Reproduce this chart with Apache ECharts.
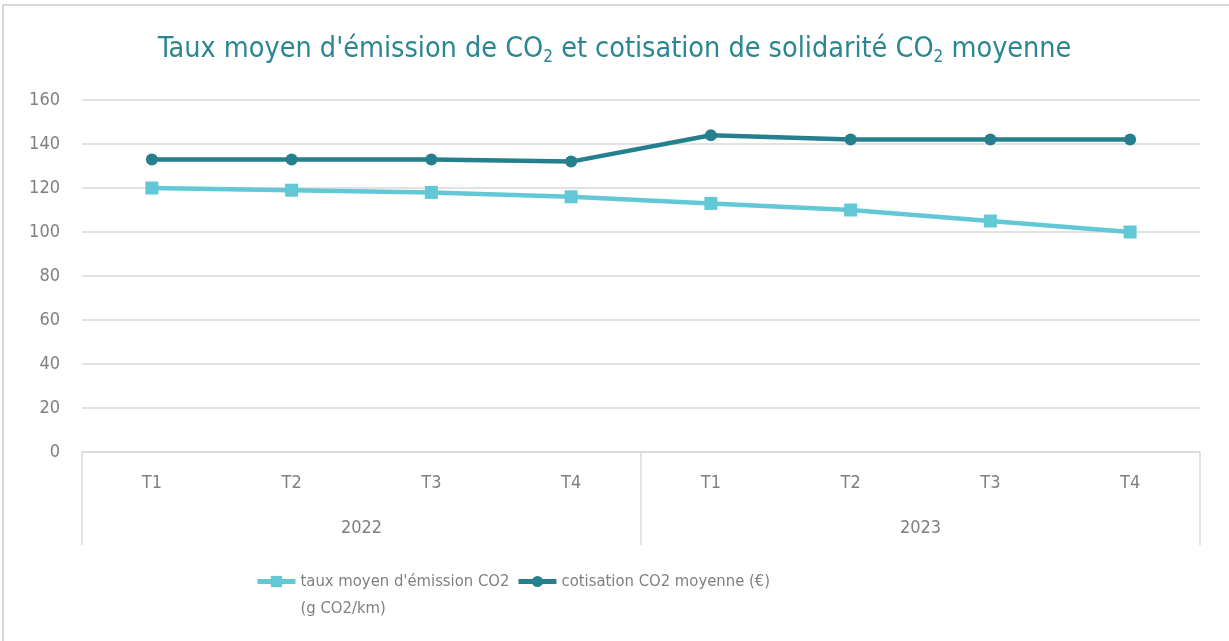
<!DOCTYPE html>
<html>
<head>
<meta charset="utf-8">
<script src="https://cdn.jsdelivr.net/npm/echarts@6/dist/echarts.min.js"></script>
<style>
html, body { margin: 0; padding: 0; background: #fff; }
#frame { position: absolute; left: 2px; top: 4px; width: 1240px; height: 650px; border-top: 2px solid #d9d9d9; border-left: 2px solid #d9d9d9; }
#chart { position: absolute; left: 0; top: 0; width: 1229px; height: 641px; }
</style>
</head>
<body>
<div id="frame"></div>
<div id="chart"></div>
<script>
// categories
const quarters = ['T1', 'T2', 'T3', 'T4', 'T1', 'T2', 'T3', 'T4'];
const years = ['2022', '2023'];
// series values
const tauxEmission = [120, 119, 118, 116, 113, 110, 105, 100];
const cotisation = [133, 133, 133, 132, 144, 142, 142, 142];
const seriesNames = ["taux moyen d'émission CO2\n(g CO2/km)", 'cotisation CO2 moyenne (€)'];

const font = '"Liberation Sans Narrow", "DejaVu Sans Condensed", sans-serif';
const grey = '#7f7f7f';
const light = '#62c8d6';
const dark = '#267f8c';
const titleColor = '#2a8791';

const legendText = { fontFamily: font, fontSize: 16.5, color: grey, lineHeight: 27 };

const chart = echarts.init(document.getElementById('chart'));
chart.setOption({
    animation: false,
    title: {
        text: '{t|Taux moyen d\'émission de CO}{s|2}{t| et cotisation de solidarité CO}{s|2}{t| moyenne}',
        left: 'center',
        top: 28,
        textStyle: {
            rich: {
                t: { fontFamily: font, fontSize: 28.5, fontWeight: 'normal', color: titleColor },
                s: { fontFamily: font, fontSize: 17, fontWeight: 'normal', color: titleColor, padding: [16, 0, 0, 0] }
            }
        }
    },
    grid: { left: 82, right: 29, top: 100, bottom: 189, containLabel: false },
    legend: [
        {
            // empty first line keeps the icon on the first text line
            top: 536,
            left: 250,
            itemWidth: 38,
            itemHeight: 14,
            textStyle: legendText,
            lineStyle: { width: 5 },
            formatter: name => '\n' + name,
            data: [seriesNames[0]]
        },
        {
            top: 563,
            left: 511,
            itemWidth: 38,
            itemHeight: 14,
            textStyle: legendText,
            lineStyle: { width: 5 },
            data: [seriesNames[1]]
        }
    ],
    xAxis: [
        {
            type: 'category',
            data: quarters,
            axisLine: { lineStyle: { color: '#d9d9d9', width: 1.5 } },
            axisTick: { show: false },
            axisLabel: { fontFamily: font, fontSize: 18, color: grey, margin: 22 }
        },
        {
            type: 'category',
            data: years,
            position: 'bottom',
            axisLine: { show: false },
            axisTick: { show: true, length: 93, lineStyle: { color: '#d9d9d9', width: 1.5 } },
            axisLabel: { fontFamily: font, fontSize: 18, color: grey, margin: 67 },
            splitLine: { show: false }
        }
    ],
    yAxis: {
        type: 'value',
        min: 0,
        max: 160,
        interval: 20,
        axisLine: { show: false },
        axisTick: { show: false },
        axisLabel: { fontFamily: font, fontSize: 18, color: grey, margin: 22 },
        splitLine: { lineStyle: { color: '#d9d9d9', width: 1.5 } }
    },
    series: [
        {
            name: seriesNames[0],
            type: 'line',
            data: tauxEmission,
            symbol: 'rect',
            symbolSize: 13,
            lineStyle: { color: light, width: 4.5 },
            itemStyle: { color: light }
        },
        {
            name: seriesNames[1],
            type: 'line',
            data: cotisation,
            symbol: 'circle',
            symbolSize: 12,
            lineStyle: { color: dark, width: 4.5 },
            itemStyle: { color: dark }
        }
    ]
});
</script>
</body>
</html>
